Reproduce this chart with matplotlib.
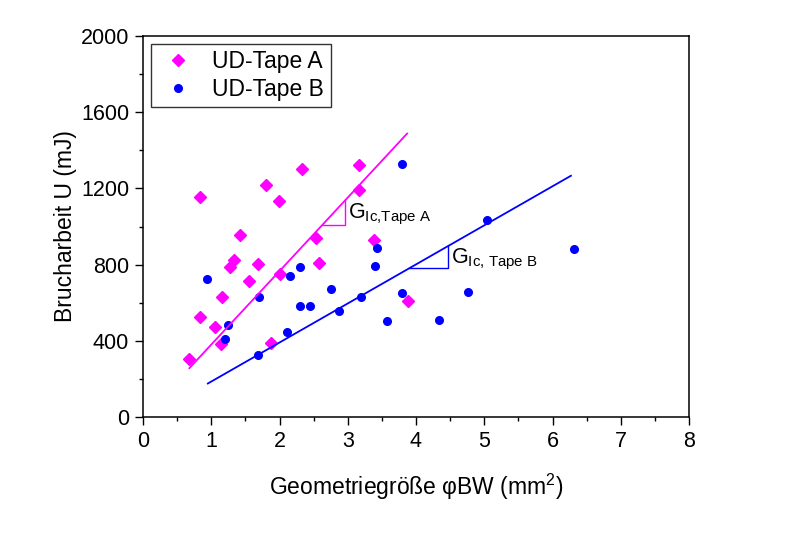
import matplotlib
matplotlib.use("Agg")
import matplotlib.pyplot as plt
import numpy as np
from matplotlib.ticker import MultipleLocator

plt.rcParams['font.family'] = ['Liberation Sans', 'DejaVu Sans']
plt.rcParams['mathtext.fontset'] = 'custom'
plt.rcParams['mathtext.rm'] = 'Liberation Sans'
plt.rcParams['mathtext.it'] = 'Liberation Sans:italic'
plt.rcParams['mathtext.bf'] = 'Liberation Sans:bold'

# ---- data ----
a_x = [0.68, 0.835, 0.835, 1.06, 1.15, 1.16, 1.27, 1.34, 1.42, 1.55, 1.68,
       1.80, 1.87, 1.99, 2.00, 2.33, 2.54, 2.58, 3.16, 3.16, 3.39, 3.88]
a_y = [304, 1155, 523, 474, 383, 628, 786, 822, 954, 712, 805,
       1216, 390, 1132, 752, 1300, 938, 807, 1321, 1193, 929, 609]

b_x = [0.94, 1.20, 1.24, 1.69, 1.70, 2.11, 2.16, 2.30, 2.30, 2.45, 2.76,
       2.87, 3.20, 3.40, 3.43, 3.57, 3.80, 3.80, 4.33, 4.76, 5.04, 6.32]
b_y = [723, 408, 483, 324, 632, 446, 742, 787, 584, 584, 670,
       558, 632, 791, 885, 502, 1330, 652, 511, 654, 1033, 881]

# fitted lines: slope, intercept, x-range
a_slope, a_icpt, a_range = 386.0, -6.0, (0.68, 3.87)
b_slope, b_icpt, b_range = 205.0, -19.0, (0.95, 6.27)

# slope triangles (x start, x end)
a_tri = (2.63, 2.96)
b_tri = (3.90, 4.47)

labels = ['UD-Tape A', 'UD-Tape B']
col_a = '#FF00FF'
col_b = '#0000FF'

fig = plt.figure(figsize=(8, 5.33), dpi=100)
ax = fig.add_axes([143/800, 1-417/533, 546/800, 381/533])

ax.plot(a_x, a_y, linestyle='none', marker='D', ms=6.5, color=col_a, mec=col_a, label=labels[0])
ax.plot(b_x, b_y, linestyle='none', marker='o', ms=5.5, color=col_b, mec=col_b, label=labels[1])

xa = np.array(a_range)
ax.plot(xa, a_slope*xa + a_icpt, color=col_a, lw=1.3)
xb = np.array(b_range)
ax.plot(xb, b_slope*xb + b_icpt, color=col_b, lw=1.3)

# triangles
def tri(x0, x1, m, c, color):
    y0 = m*x0 + c
    y1 = m*x1 + c
    ax.plot([x0, x1, x1], [y0, y0, y1], color=color, lw=1.0)
    return x1, y0, y1

x1, y0, y1 = tri(a_tri[0], a_tri[1], a_slope, a_icpt, col_a)
ax.text(x1 + 0.05, (y0 + y1)/2 - 10, r'G$_{\mathrm{Ic{,}Tape\ A}}$', fontsize=15.5, va='center', ha='left')
x1, y0, y1 = tri(b_tri[0], b_tri[1], b_slope, b_icpt, col_b)
ax.text(x1 + 0.05, (y0 + y1)/2 - 10, r'G$_{\mathrm{Ic{,}\ Tape\ B}}$', fontsize=15.5, va='center', ha='left')

ax.set_xlim(0, 8)
ax.set_ylim(0, 2000)
ax.xaxis.set_major_locator(MultipleLocator(1))
ax.xaxis.set_minor_locator(MultipleLocator(0.5))
ax.yaxis.set_major_locator(MultipleLocator(400))
ax.yaxis.set_minor_locator(MultipleLocator(200))
ax.tick_params(which='major', direction='out', length=6, width=1.0, labelsize=15.5, pad=4)
ax.tick_params(which='minor', direction='out', length=3, width=1.0)
ax.tick_params(top=False, right=False, which='both')
for s in ax.spines.values():
    s.set_linewidth(1.1)

ax.set_xlabel(r'Geometriegröße φBW (mm$^2$)', fontsize=16.5, labelpad=14)
ax.set_ylabel('Brucharbeit U (mJ)', fontsize=16.5, labelpad=3)

leg = ax.legend(loc='upper left', bbox_to_anchor=(8/546, 1-8/381), borderaxespad=0,
                fontsize=16.5, frameon=True, fancybox=False, edgecolor='black',
                handletextpad=0.57, borderpad=0.28, labelspacing=0.18, handlelength=1.83)
leg.get_frame().set_linewidth(1.0)

fig.savefig('out.png', dpi=100)
